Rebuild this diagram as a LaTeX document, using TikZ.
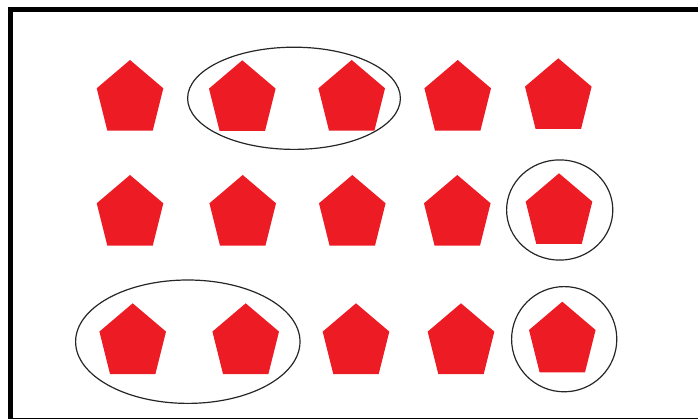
\documentclass[tikz,border=0pt]{standalone}
\usepackage{tikz}
\definecolor{pentred}{RGB}{237,28,36}

\begin{document}
\begin{tikzpicture}[x=1pt, y=-1pt, pent/.style={fill=pentred}, ring/.style={draw=black!85, line width=1.2pt}]
\clip (0,0) rectangle (698,419);
% frame
\draw[line width=5pt] (10.8,9.2) rectangle (730,420);
% pentagons, given by their top corner
\foreach \px/\py in {130/60, 242.3/60.3, 351.7/60, 457.7/60, 558.3/58.3,
                     130/175, 242.7/175, 352.3/175, 457.3/175, 559/173.3,
                     132.7/303.3, 245.7/303.3, 356/303.3, 461/303.3, 562.3/301.7}
  \fill[pent] (\px,\py) -- ++(33.3,28.3) -- ++(-10.6,42.4) -- ++(-45.4,0) -- ++(-10.6,-42.4) -- cycle;
% groups
\draw[ring] (294,98.3) ellipse (106.4 and 51.1);
\draw[ring] (559.7,210) ellipse (53.1 and 50.1);
\draw[ring] (187.8,341.7) ellipse (112.2 and 61.7);
\draw[ring] (564.2,339.2) ellipse (52.6 and 52.6);
\end{tikzpicture}
\end{document}
